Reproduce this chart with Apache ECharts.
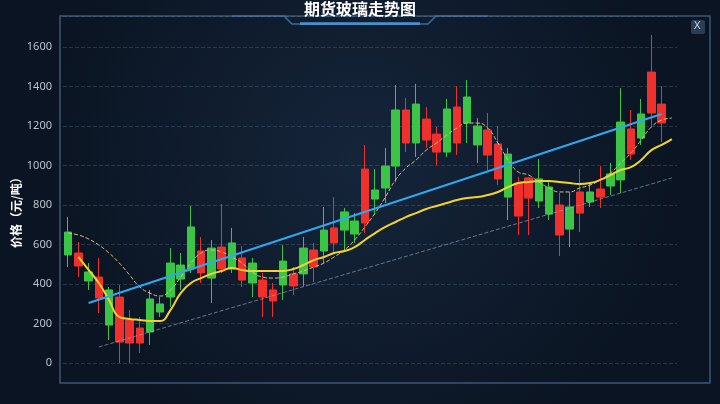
<!DOCTYPE html><html><head><meta charset="utf-8">
<script src="https://cdn.jsdelivr.net/npm/echarts@6/dist/echarts.min.js"></script>
<style>html,body{margin:0;padding:0;background:#0b1626}#c{width:720px;height:404px}</style></head><body><div id="c"></div>
<script>
const categories = Array.from({length:60},(_,i)=>'D'+(i+1));
const opens  = [663,491,461,329,370,106,101,101,324,299,506,496,689,456,582,476,608,420,506,334,314,516,390,582,486,673,608,765,719,709,876,997,1281,1114,1311,1129,1068,1286,1114,1347,1200,1053,932,1058,744,835,932,891,648,790,759,866,840,957,1220,1058,1261,1266,1215];
const closes = [547,557,415,435,192,334,218,177,157,258,334,425,476,567,430,587,476,532,405,420,370,395,451,451,572,567,684,673,653,982,830,886,997,1281,1114,1235,1159,1068,1296,1215,1104,1180,1109,840,911,937,820,754,800,678,866,815,881,896,927,1185,1139,1473,1311];
const lows   = [486,435,370,253,116,0,0,51,91,233,284,370,456,405,304,456,456,385,334,233,233,319,344,390,410,506,557,572,608,658,759,810,916,1068,1043,1089,1002,1043,1053,1114,1013,977,901,724,648,648,785,724,542,587,663,790,785,851,861,1028,1104,1195,1119];
const highs  = [739,613,506,532,385,395,268,233,370,334,582,557,795,638,623,805,684,592,532,456,405,597,486,638,608,790,840,785,759,1104,982,1089,1408,1342,1413,1296,1195,1337,1402,1433,1240,1266,1200,1089,942,942,1033,916,861,866,982,911,997,1013,1392,1281,1337,1661,1402];
const maSlow = [null,537,471,405,319,233,223,218,213,213,268,354,405,430,451,466,481,471,466,466,466,466,476,496,521,537,557,567,587,623,658,689,714,739,759,780,795,810,825,835,840,851,866,891,911,916,921,921,916,911,906,911,927,952,977,992,1028,1078,1104,1134];
const maFast = [658,648,628,597,557,506,446,385,354,339,370,435,506,557,572,562,537,506,461,435,430,435,451,466,486,506,537,572,623,689,759,840,927,987,1028,1078,1114,1154,1190,1215,1215,1190,1114,1028,967,952,916,886,866,866,886,901,927,962,1013,1063,1129,1195,1230,1240];
const trendTop = [[2,304],[58,1261]];
const trendLow = [[3,81],[59,937]];

const kdata = opens.map((o,i)=>[o,closes[i],lows[i],highs[i]]);
const chart = echarts.init(document.getElementById('c'));
chart.setOption({
  backgroundColor:{type:'radial',x:0.5,y:0.4,r:0.8,colorStops:[{offset:0,color:'#15253a'},{offset:1,color:'#0a1422'}]},
  animation:false,
  grid:{left:63,right:43,top:16,bottom:41},
  xAxis:{type:'category',data:categories,boundaryGap:true,axisLine:{show:false},axisTick:{show:false},axisLabel:{show:false},splitLine:{show:false}},
  yAxis:{type:'value',min:0,max:1757,interval:200,
    axisLabel:{color:'#b9c3cf',fontSize:11,fontFamily:'Noto Sans',margin:11,showMaxLabel:false,formatter:v=>String(v)},
    axisLine:{show:false},axisTick:{show:false},
    splitLine:{lineStyle:{color:'rgba(120,150,180,0.25)',type:'dashed'}}},
  graphic:[
    {type:'rect',shape:{x:60,y:16,width:650,height:367},style:{fill:'none',stroke:'#3c5676',lineWidth:1.5},silent:true},
    {type:'polyline',shape:{points:[[232,16],[284,16],[292,24],[428,24],[436,16],[488,16]]},style:{fill:'none',stroke:'#3a6b9a',lineWidth:1.5}},
    {type:'rect',shape:{x:300,y:22,width:120,height:3},style:{fill:'rgba(90,180,255,0.6)'}},
    {type:'text',left:'center',top:1,style:{text:'期货玻璃走势图',fill:'#ffffff',font:'bold 16px "Noto Sans CJK SC"'}},
    {type:'rect',shape:{x:691,y:20,width:14,height:14,r:2},style:{fill:'#2a3d55'}},
    {type:'text',x:694,y:20,style:{text:'X',fill:'#c8d4e0',font:'11px "Noto Sans"'}},
    {type:'text',x:10,y:248,rotation:Math.PI/2,style:{text:'价格（元/吨）',fill:'#ffffff',font:'bold 12px "Noto Sans CJK SC"'}}
  ],
  series:[
    {type:'candlestick',data:kdata,barWidth:8,
     itemStyle:{color:'#f0302c',color0:'#3cc447',borderColor:'#f0302c',borderColor0:'#3cc447',borderWidth:1}},
    {type:'line',data:maSlow,smooth:true,symbol:'none',lineStyle:{color:'#f5d32a',width:2}},
    {type:'line',data:maFast,smooth:true,symbol:'none',lineStyle:{color:'#d8c47a',width:1,type:'dashed'}},
    {type:'line',data:trendTop,symbol:'none',lineStyle:{color:'#2ea8f0',width:2}},
    {type:'line',data:trendLow,symbol:'none',lineStyle:{color:'rgba(160,180,200,0.6)',width:1,type:'dashed'}}
  ]
});
</script></body></html>
